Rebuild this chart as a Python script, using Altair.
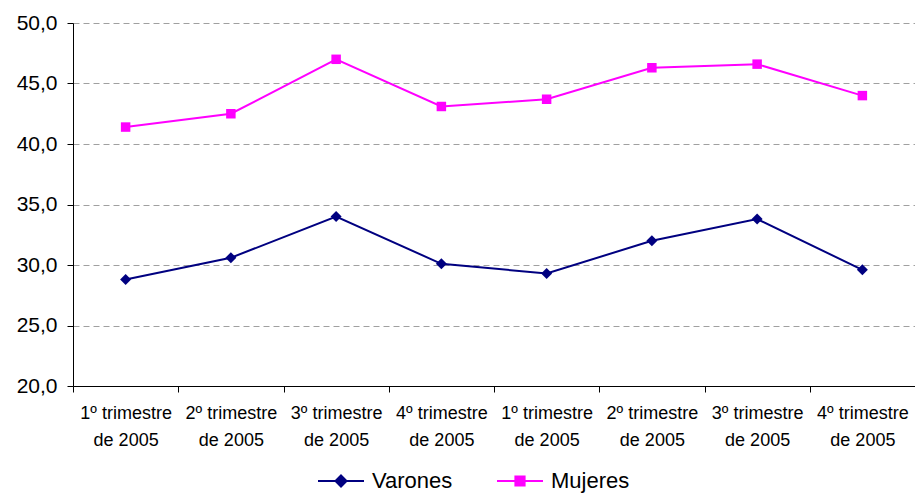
import json
import altair as alt
import pandas as pd

trimestres = ["1º trimestre", "2º trimestre", "3º trimestre", "4º trimestre",
              "1º trimestre", "2º trimestre", "3º trimestre", "4º trimestre"]
anios = ["de 2005"] * 8
varones = [28.8, 30.6, 34.0, 30.1, 29.3, 32.0, 33.8, 29.6]
mujeres = [41.4, 42.5, 47.0, 43.1, 43.7, 46.3, 46.6, 44.0]
series = ["Varones", "Mujeres"]
colores = ["#000080", "#FF00FF"]
y_ticks = [20, 25, 30, 35, 40, 45, 50]
legend_shapes = [
    "M-1,0L1,0M0,-0.24L0.24,0L0,0.24L-0.24,0Z",
    "M-1,0L1,0M-0.2,-0.2L0.2,-0.2L0.2,0.2L-0.2,0.2Z",
]

rows = []
for i in range(len(trimestres)):
    rows.append({"idx": i, "serie": "Varones", "valor": varones[i]})
    rows.append({"idx": i, "serie": "Mujeres", "valor": mujeres[i]})
df = pd.DataFrame(rows)

FONT = "Liberation Sans"

label_expr = ("[" + json.dumps(trimestres, ensure_ascii=False) + "[datum.value], "
              + json.dumps(anios, ensure_ascii=False) + "[datum.value]]")

x = alt.X(
    "idx:O",
    scale=alt.Scale(type="band", paddingInner=0, paddingOuter=0),
    axis=alt.Axis(
        title=None, labelAngle=0, labelExpr=label_expr, tickBand="extent",
        labelFont=FONT, labelFontSize=18, labelColor="black",
        labelLineHeight=27, labelPadding=12, labelBaseline="top",
        domainColor="black", tickColor="black", tickSize=6, grid=False,
    ),
)
y = alt.Y(
    "valor:Q",
    scale=alt.Scale(domain=[20, 50], nice=False, zero=False),
    axis=alt.Axis(
        title=None, values=y_ticks,
        labelExpr="replace(format(datum.value, '.1f'), '.', ',')",
        labelFont=FONT, labelFontSize=21, labelColor="black", labelPadding=10,
        domainColor="black", tickColor="black", tickSize=6,
        grid=True, gridColor="#a0a0a0", gridDash=[6, 4], gridWidth=1,
    ),
)

leg = alt.Legend(
    title=None, orient="none", direction="horizontal", legendX=244, legendY=434,
    symbolSize=2116, symbolStrokeWidth=2, labelFont=FONT, labelFontSize=22,
    labelColor="black", labelOffset=7, columnPadding=40, padding=0,
    symbolOpacity=1,
)

color = alt.Color("serie:N", scale=alt.Scale(domain=series, range=colores), legend=leg)

lines = alt.Chart(df).mark_line(strokeWidth=2).encode(x=x, y=y, color=color)
pts_v = (alt.Chart(df).transform_filter("datum.serie == 'Varones'")
         .mark_point(shape="diamond", filled=True, size=120, opacity=1)
         .encode(x=x, y=y, color=color))
pts_m = (alt.Chart(df).transform_filter("datum.serie == 'Mujeres'")
         .mark_point(shape="square", filled=True, size=90, opacity=1)
         .encode(x=x, y=y, color=color))
legend_layer = (alt.Chart(df).transform_filter("false")
                .mark_point(filled=False, opacity=1, strokeWidth=2)
                .encode(
                    x=x, y=y, color=color,
                    fill=alt.Fill("serie:N", scale=alt.Scale(domain=series, range=colores), legend=leg),
                    shape=alt.Shape("serie:N", scale=alt.Scale(domain=series, range=legend_shapes), legend=leg),
                ))

chart = (
    alt.layer(lines, pts_v, pts_m, legend_layer)
    .properties(
        width=842, height=363,
        autosize=alt.AutoSizeParams(type="none"),
        padding={"left": 65, "top": 15, "right": 0, "bottom": 110},
        background="white",
    )
    .configure_view(stroke=None)
)

chart.save("out.html", embed_options={"renderer": "svg", "actions": False})
